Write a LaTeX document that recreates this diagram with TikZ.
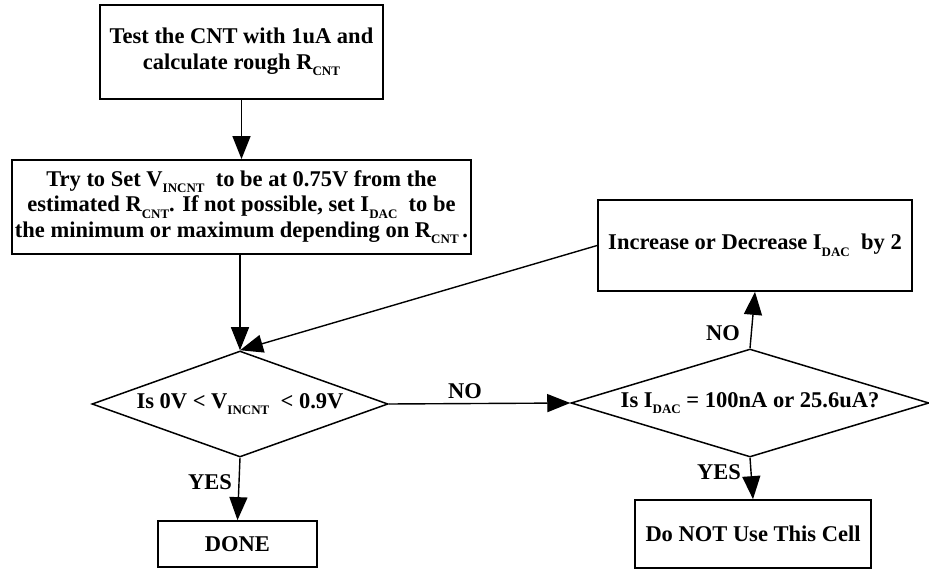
\documentclass[tikz,border=0pt]{standalone}
\usepackage{fontspec}
\setmainfont{Liberation Serif}
\usetikzlibrary{shapes.geometric,arrows.meta}
\newcommand\sbs[1]{\raisebox{-6.5pt}{\fontsize{13}{13}\selectfont #1}}
\begin{document}
\begin{tikzpicture}[x=1pt,y=-1pt,
  txt/.style={font=\fontsize{22.5}{25.5}\selectfont\bfseries},
  box/.style={txt,draw,line width=1.7pt,rectangle,inner sep=0pt,align=center},
  dec/.style={txt,draw,line width=1.5pt,diamond,inner sep=0pt},
  lab/.style={txt,inner sep=0pt},
  arr/.style={line width=1.4pt,-{Triangle[length=23pt,width=18pt]}},
  ln/.style={line width=1.4pt}]
\useasboundingbox (0,0) rectangle (929,569);
\node[box,minimum width=283pt,minimum height=94pt] (b1) at (241.5,52)
  {Test the CNT with 1uA and\\calculate rough R\sbs{CNT}};
\node[box,minimum width=459pt,minimum height=94pt] (b2) at (241.5,207)
  {Try to Set V\sbs{INCNT}\ \ to be at 0.75V from the\\
   estimated R\sbs{CNT}. If not possible, set I\sbs{DAC}\ \ to be\\
   the minimum or maximum depending on R\sbs{CNT}\,.};
\node[dec,aspect=2.8,minimum width=296pt,minimum height=106pt] (d1) at (240,404)
  {Is 0V < V\sbs{INCNT}\ \ < 0.9V};
\node[dec,aspect=3.3,minimum width=358pt,minimum height=108pt] (d2) at (750,403)
  {Is I\sbs{DAC} = 100nA or 25.6uA?};
\node[box,minimum width=314pt,minimum height=91pt] (b3) at (755,245.5)
  {Increase or Decrease I\sbs{DAC}\ \ by 2};
\node[box,minimum width=236pt,minimum height=68pt] (b4) at (753,534)
  {Do NOT Use This Cell};
\node[box,minimum width=159pt,minimum height=46pt] (done) at (237.5,544)
  {DONE};
\draw[arr] (b1.south) -- (b2.north);
\draw[arr] (b2.south -| d1.north) -- (d1.north);
\draw[arr] (d1.south) -- (done.north);
\draw[arr] (d1.east) -- (d2.west);
\draw[arr] (d2.north) -- (b3.south);
\draw[arr] (d2.south) -- (b4.north);
\draw[arr] (b3.west) -- (d1.north);
\node[lab] (yes1) at (210,482) {YES};
\node[lab] (no1) at (465,391) {NO};
\node[lab] (no2) at (723,333) {NO};
\node[lab] (yes2) at (719,472) {YES};
\end{tikzpicture}
\end{document}
